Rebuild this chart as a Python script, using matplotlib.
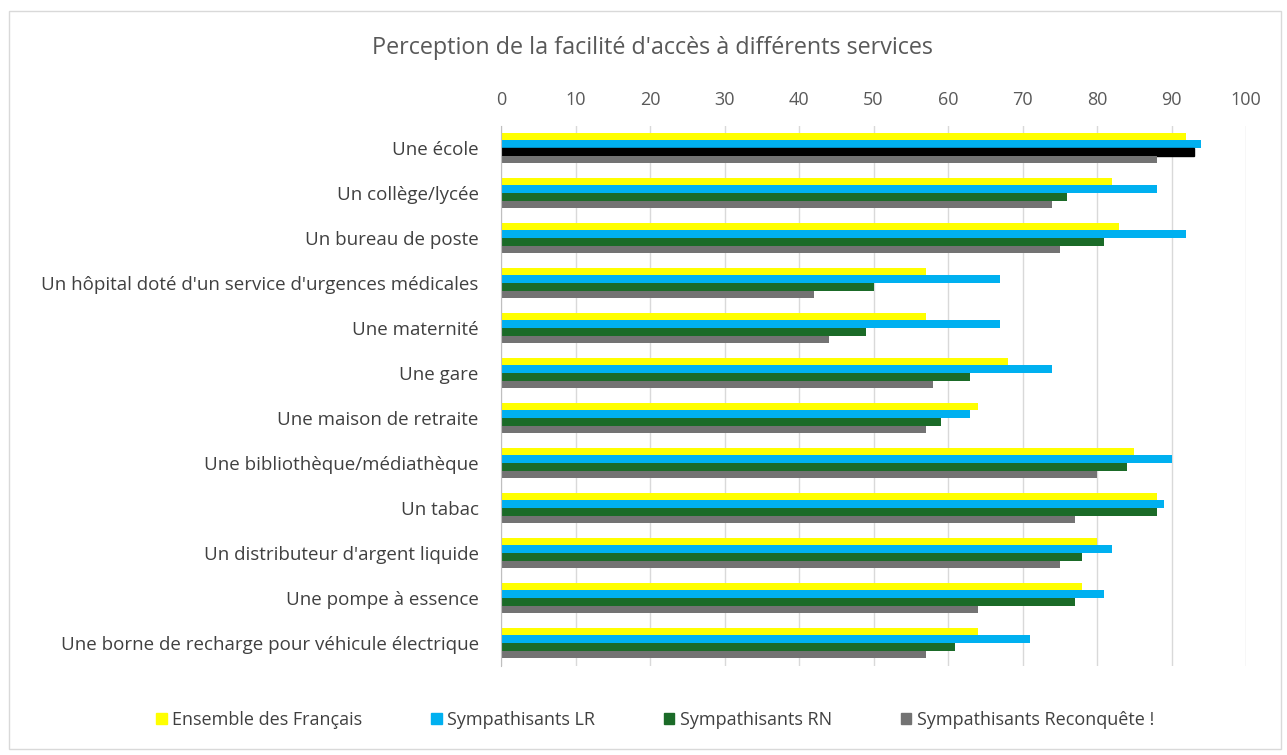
import numpy as np
import matplotlib
matplotlib.use("Agg")
from matplotlib import pyplot as plt
from matplotlib.patches import Rectangle, Patch

plt.rcParams["font.family"] = ["Open Sans", "DejaVu Sans"]

# Donnees
categories = [
    "Une école",
    "Un collège/lycée",
    "Un bureau de poste",
    "Un hôpital doté d'un service d'urgences médicales",
    "Une maternité",
    "Une gare",
    "Une maison de retraite",
    "Une bibliothèque/médiathèque",
    "Un tabac",
    "Un distributeur d'argent liquide",
    "Une pompe à essence",
    "Une borne de recharge pour véhicule électrique",
]
series_noms = ["Ensemble des Français", "Sympathisants LR", "Sympathisants RN", "Sympathisants Reconquête !"]
ensemble = [92, 82, 83, 57, 57, 68, 64, 85, 88, 80, 78, 64]
lr = [94, 88, 92, 67, 67, 74, 63, 90, 89, 82, 81, 71]
rn = [93, 76, 81, 50, 49, 63, 59, 84, 88, 78, 77, 61]
reconquete = [88, 74, 75, 42, 44, 58, 57, 80, 77, 75, 64, 57]
ticks_x = [0, 10, 20, 30, 40, 50, 60, 70, 80, 90, 100]

couleurs = ["#FFFF00", "#00B0F0", "#1B6B28", "#737373"]

fig = plt.figure(figsize=(12.87, 7.55), dpi=100)
ax = fig.add_axes([501 / 1287, 1 - 665.5 / 755, 745 / 1287, 540 / 755])

y = np.arange(len(categories))
h = 0.17
valeurs = [ensemble, lr, rn, reconquete]
for i, (vals, col) in enumerate(zip(valeurs, couleurs)):
    barres = ax.barh(y - 1.5 * h + i * h, vals, height=h, color=col, zorder=3)
    if i == 2:
        # point selectionne dans le graphique d'origine
        barres[0].set_color("black")

ax.set_xlim(0, 100)
ax.set_ylim(len(categories) - 0.5, -0.5)
ax.set_xticks(ticks_x)
ax.xaxis.tick_top()
ax.tick_params(axis="x", length=0, labelsize=13, colors="#595959", pad=12)
ax.set_yticks(y)
ax.set_yticklabels(categories, fontsize=13.5, color="#404040")
ax.tick_params(axis="y", length=0, pad=16)
ax.grid(axis="x", color="#D9D9D9", linewidth=1, zorder=0)
for s in ["top", "right", "bottom"]:
    ax.spines[s].set_visible(False)
ax.spines["left"].set_color("#BFBFBF")
ax.spines["left"].set_zorder(4)

fig.text(652 / 1287, 1 - 48 / 755, "Perception de la facilité d'accès à différents services",
         ha="center", va="center", fontsize=16.8, color="#595959")

poignees = [Patch(color=c) for c in couleurs]
fig.legend(poignees, series_noms, loc="center", bbox_to_anchor=(655 / 1287, 1 - 720 / 755),
           ncol=4, frameon=False, fontsize=13, handlelength=0.6, handleheight=0.6,
           handletextpad=0.3, columnspacing=3.8, labelcolor="#404040")

fig.patches.append(Rectangle((9 / 1287, 6 / 755), 1272 / 1287, 738 / 755, transform=fig.transFigure,
                             fill=False, edgecolor="#D9D9D9", linewidth=1))

fig.savefig("out.png", dpi=100)
